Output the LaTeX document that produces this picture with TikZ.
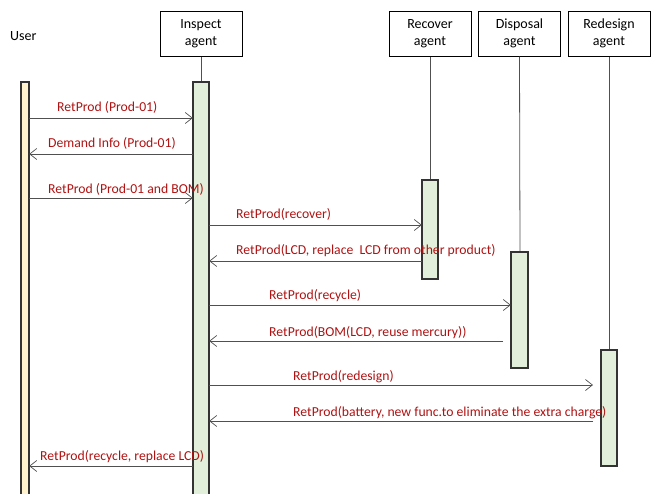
\documentclass[tikz,border=0pt]{standalone}
\usepackage{fontspec}
\setmainfont{Carlito}
\usetikzlibrary{arrows.meta}
\definecolor{msg}{RGB}{175,18,18}
\definecolor{ybar}{RGB}{255,242,204}
\definecolor{gbar}{RGB}{226,239,218}
\definecolor{lline}{RGB}{80,80,80}
\begin{document}
\begin{tikzpicture}[x=1pt,y=-1pt,
  agentbox/.style={draw=black,line width=1pt,minimum width=82pt,minimum height=45pt,align=center,font=\fontsize{14}{16.5}\selectfont,inner sep=1pt},
  actbar/.style={draw=black!80,line width=1.1pt,fill=gbar},
  lifeline/.style={draw=lline,line width=0.8pt},
  msgline/.style={draw=lline,line width=0.8pt,-{Straight Barb[length=7pt,width=11pt,line width=0.7pt]}},
  msglabel/.style={text=msg,anchor=west,inner sep=0pt,font=\fontsize{13.7}{15}\selectfont}]
\useasboundingbox (0,0) rectangle (653,493);
% header boxes
\node[anchor=west,inner sep=0pt,font=\fontsize{14}{16.5}\selectfont] (user) at (10,36) {User};
\node[agentbox] (insp) at (201,33.5) {Inspect\\agent};
\node[agentbox] (recv) at (430,33.5) {Recover\\agent};
\node[agentbox] (disp) at (519.5,33.5) {Disposal\\agent};
\node[agentbox] (rede) at (609,33.5) {Redesign\\agent};
% lifelines
\coordinate (inspL) at (201,82);
\coordinate (recvL) at (430,180);
\coordinate (dispL) at (520,252);
\coordinate (redeL) at (609,350);
\draw[lifeline] (insp.south) -- (inspL);
\draw[lifeline] (recv.south) -- (recvL);
\draw[lifeline] (disp.south) -- (dispL);
\draw[lifeline] (rede.south) -- (redeL);
% activation bars
\draw[draw=black!80,line width=1.1pt,fill=ybar] (21,82) rectangle (29,500);
\node[inner sep=0pt,minimum width=8pt,minimum height=418pt] (ubar) at (25,291) {};
\draw[actbar] (193,82) rectangle (209,500);
\node[inner sep=0pt,minimum width=16pt,minimum height=418pt] (ibar) at (201,291) {};
\draw[actbar] (422,180) rectangle (438,279);
\node[inner sep=0pt,minimum width=16pt,minimum height=99pt] (rbar) at (430,229.5) {};
\draw[actbar] (511,252) rectangle (528,368);
\node[inner sep=0pt,minimum width=17pt,minimum height=116pt] (dbar) at (519.5,310) {};
\draw[actbar] (601,350) rectangle (617,466);
\node[inner sep=0pt,minimum width=16pt,minimum height=116pt] (xbar) at (609,408) {};
% messages
\draw[msgline] (ubar.east |- 0,118) -- (ibar.west |- 0,118);
\node[msglabel] (m1) at (57,107.5) {RetProd (Prod-01)};
\draw[msgline] (ibar.west |- 0,154) -- (ubar.east |- 0,154);
\node[msglabel] (m2) at (48,143.5) {Demand Info (Prod-01)};
\draw[msgline] (ubar.east |- 0,198) -- (ibar.west |- 0,198);
\node[msglabel] (m3) at (48,189.5) {RetProd (Prod-01 and BOM)};
\draw[msgline] (ibar.east |- 0,225) -- (rbar.west |- 0,225);
\node[msglabel] (m4) at (236,214.5) {RetProd(recover)};
\draw[msgline] (rbar.west |- 0,261) -- (ibar.east |- 0,261);
\node[msglabel] (m5) at (236,250.5) {RetProd(LCD, replace\ \ LCD from other product)};
\draw[msgline] (ibar.east |- 0,305) -- (dbar.west |- 0,305);
\node[msglabel] (m6) at (269,295.5) {RetProd(recycle)};
\coordinate (m7s) at (503,341);
\draw[msgline] (m7s) -- (ibar.east |- m7s);
\node[msglabel] (m7) at (269,332.5) {RetProd(BOM(LCD, reuse mercury))};
\coordinate (m8e) at (593,385);
\draw[msgline] (ibar.east |- m8e) -- (m8e);
\node[msglabel] (m8) at (293,376.5) {RetProd(redesign)};
\coordinate (m9s) at (593,421);
\draw[msgline] (m9s) -- (ibar.east |- m9s);
\node[msglabel] (m9) at (293,412.5) {RetProd(battery, new func.to eliminate the extra charge)};
\draw[msgline] (ibar.west |- 0,466) -- (ubar.east |- 0,466);
\node[msglabel] (m10) at (40,456.5) {RetProd(recycle, replace LCD)};
\end{tikzpicture}
\end{document}
